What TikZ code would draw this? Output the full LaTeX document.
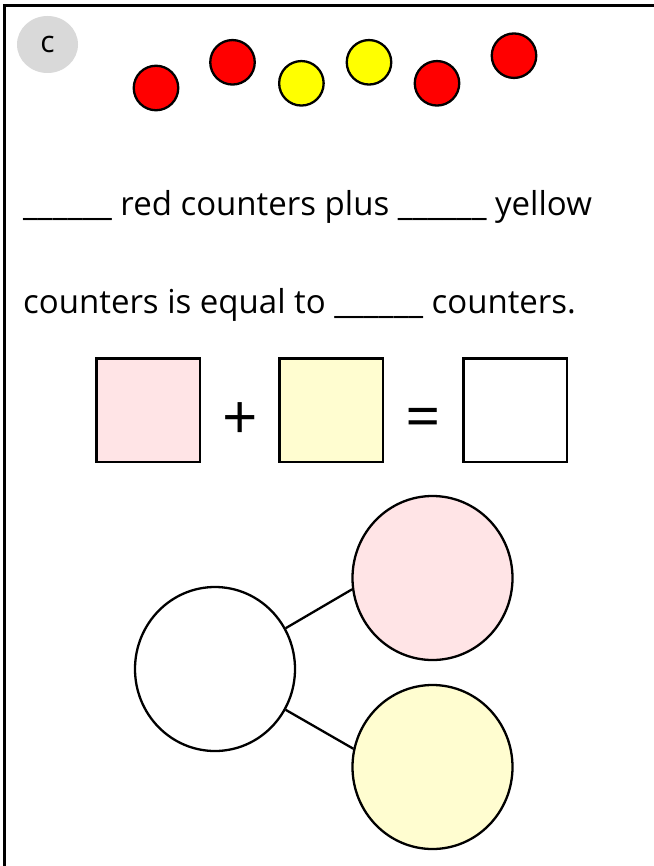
\documentclass[tikz,border=0pt]{standalone}
\usepackage{fontspec}
\setmainfont{Open Sans}
\usetikzlibrary{shapes.geometric}
\definecolor{badgegrey}{RGB}{217,217,217}
\definecolor{counterred}{RGB}{255,0,0}
\definecolor{counteryellow}{RGB}{255,255,0}
\definecolor{palepink}{RGB}{255,228,230}
\definecolor{paleyellow}{RGB}{255,253,208}
\begin{document}
\begin{tikzpicture}[x=1pt,y=-1pt,
  counter/.style={circle,draw=black,line width=2.3pt,minimum size=44.5pt,inner sep=0pt},
  redcounter/.style={counter,fill=counterred},
  yellowcounter/.style={counter,fill=counteryellow},
  answerbox/.style={rectangle,draw=black,line width=2.5pt,minimum size=103.5pt,inner sep=0pt},
  part/.style={ellipse,draw=black,line width=2.3pt,minimum width=160pt,minimum height=164pt,inner sep=0pt},
  link/.style={line width=2.3pt},
  sentence/.style={anchor=base west,inner sep=0pt,font=\fontsize{33}{38}\selectfont},
  symbol/.style={inner sep=0pt,font=\fontsize{62}{66}\selectfont}]
\useasboundingbox (0,0) rectangle (653,866);
\fill[white] (0,0) rectangle (653,866);
% page frame: open on the right and at the bottom
\draw[line width=2.5pt] (4.3,870) -- (4.3,5.3) -- (660,5.3);

% question letter
\node[ellipse,fill=badgegrey,minimum width=61pt,minimum height=57pt,inner sep=0pt,
      font=\fontsize{30}{34}\selectfont] (badge) at (47.5,44.5) {c};

% counters
\node[redcounter]    (c1) at (156,88) {};
\node[redcounter]    (c2) at (232.5,62.3) {};
\node[yellowcounter] (c3) at (301.4,83.3) {};
\node[yellowcounter] (c4) at (369,62.3) {};
\node[redcounter]    (c5) at (437,83.3) {};
\node[redcounter]    (c6) at (514,55.7) {};

% sentence with blanks
\node[sentence] (line1) at (23,216) {\_\_\_\_\_\_ red counters plus \_\_\_\_\_\_ yellow};
\node[sentence] (line2) at (23,313) {counters is equal to \_\_\_\_\_\_ counters.};

% number sentence
\node[answerbox,fill=palepink]   (b1) at (148,410) {};
\node[symbol] (plus) at (240,421) {+};
\node[answerbox,fill=paleyellow] (b2) at (331,410) {};
\node[symbol] (equals) at (423,423) {=};
\node[answerbox,fill=white]      (b3) at (515,410) {};

% part-whole model
\node[part,fill=white]      (whole) at (215,669) {};
\node[part,fill=palepink]   (partA) at (432.5,578) {};
\node[part,fill=paleyellow] (partB) at (432.5,767) {};
\draw[link] (whole.30) -- (partA.188);
\draw[link] (whole.-30) -- (partB.167);
\end{tikzpicture}
\end{document}
